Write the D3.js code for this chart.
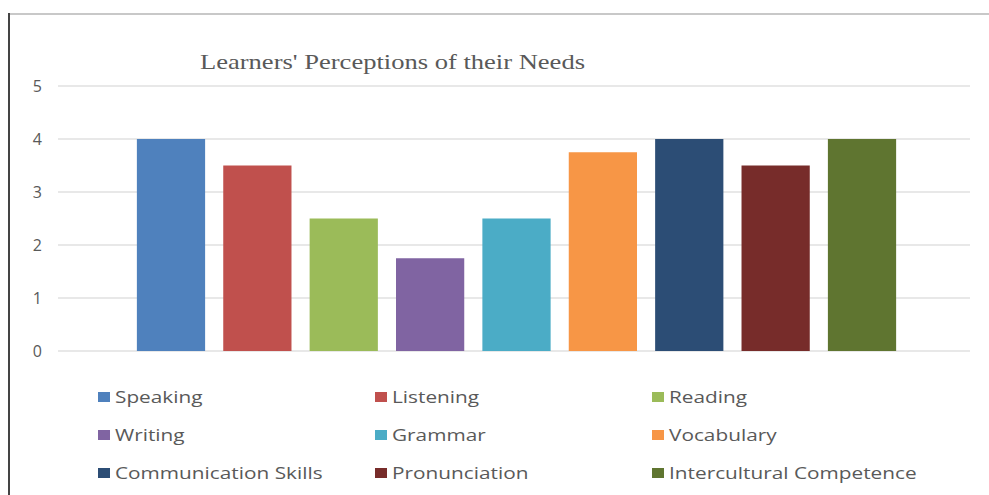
<!DOCTYPE html>
<html><head><meta charset="utf-8">
<script src="https://cdn.jsdelivr.net/npm/d3@7"></script>
<style>html,body{margin:0;padding:0;background:#fff;}svg{display:block;}</style>
</head><body>
<svg id="chart" width="989" height="495"></svg>
<script>
const categories = ["Speaking","Listening","Reading","Writing","Grammar","Vocabulary","Communication Skills","Pronunciation","Intercultural Competence"];
const values = [4, 3.5, 2.5, 1.75, 2.5, 3.75, 4, 3.5, 4];
const colors = ["#4f81bd","#c0504d","#9bbb59","#8064a2","#4bacc6","#f79646","#2c4d75","#772c2a","#5f7530"];
const yTicks = [0,1,2,3,4,5];
const title = "Learners' Perceptions of their Needs";

const svg = d3.select("#chart");
// frame
svg.append("line").attr("x1",9).attr("x2",989).attr("y1",14).attr("y2",14).attr("stroke","#c8c8c8").attr("stroke-width",2);
svg.append("line").attr("x1",9).attr("x2",9).attr("y1",13).attr("y2",495).attr("stroke","#444").attr("stroke-width",2);

const y = d3.scaleLinear().domain([0,5]).range([351,86]);
const x = d3.scaleBand().domain(categories).range([127.8,905.2]).paddingInner(0.21).paddingOuter(0.105);

// gridlines
svg.append("g").selectAll("line").data(yTicks).join("line")
  .attr("x1",58).attr("x2",970).attr("y1",d=>y(d)).attr("y2",d=>y(d))
  .attr("stroke","#e0e0e0").attr("stroke-width",1.5);

// y axis labels
const yAxis = d3.axisLeft(y).tickValues(yTicks).tickSize(0).tickPadding(0).tickFormat(d3.format("d"));
const ga = svg.append("g").attr("transform","translate(42,0)").call(yAxis);
ga.select(".domain").remove();
ga.selectAll("text").attr("font-family","'Open Sans', sans-serif").attr("font-size",16).attr("fill","#595959");

// bars
svg.append("g").selectAll("rect").data(categories).join("rect")
  .attr("x",d=>x(d)).attr("width",x.bandwidth())
  .attr("y",(d,i)=>y(values[i])).attr("height",(d,i)=>y(0)-y(values[i]))
  .attr("fill",(d,i)=>colors[i]);

// title
svg.append("text").attr("x",200).attr("y",69).text(title)
  .attr("font-family","'Liberation Serif', 'DejaVu Serif', serif").attr("font-size",21)
  .attr("fill","#595959").attr("textLength",385).attr("lengthAdjust","spacingAndGlyphs");

// legend
const colX = [98,375,652];
const rowY = [397,435,473];
const leg = svg.append("g").selectAll("g").data(categories).join("g")
  .attr("transform",(d,i)=>`translate(${colX[i%3]},${rowY[Math.floor(i/3)]})`);
leg.append("rect").attr("x",0).attr("y",-5).attr("width",12).attr("height",10).attr("fill",(d,i)=>colors[i]);
leg.append("text").attr("transform","translate(17,6) scale(1.3,1)").text(d=>d)
  .attr("font-family","'Open Sans', sans-serif").attr("font-size",16).attr("fill","#595959");
</script>
</body></html>
